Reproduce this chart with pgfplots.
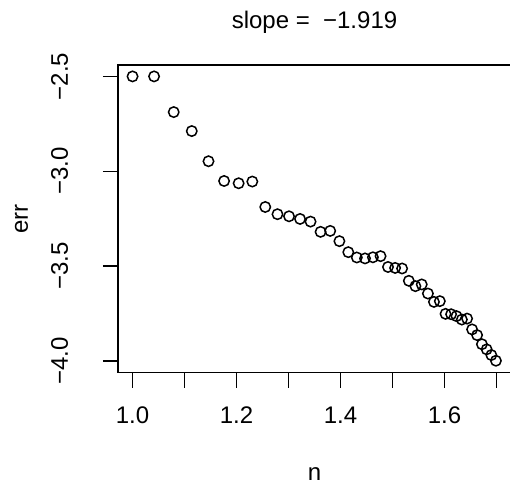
\documentclass[border=0pt,12pt]{standalone}
\usepackage{fontspec}
\setmainfont{Liberation Sans}
\usepackage{pgfplots}
\pgfplotsset{compat=1.18}

% x = log10(n), n = 10..50 ; y = log10(err)
\pgfplotstableread{
x y
1.0000 -2.500
1.0414 -2.500
1.0792 -2.688
1.1139 -2.788
1.1461 -2.947
1.1761 -3.051
1.2041 -3.063
1.2304 -3.054
1.2553 -3.188
1.2788 -3.226
1.3010 -3.237
1.3222 -3.251
1.3424 -3.265
1.3617 -3.319
1.3802 -3.314
1.3979 -3.368
1.4150 -3.426
1.4314 -3.454
1.4472 -3.459
1.4624 -3.453
1.4771 -3.447
1.4914 -3.504
1.5051 -3.509
1.5185 -3.512
1.5315 -3.577
1.5441 -3.605
1.5563 -3.596
1.5682 -3.644
1.5798 -3.688
1.5911 -3.684
1.6021 -3.751
1.6128 -3.753
1.6232 -3.763
1.6335 -3.781
1.6435 -3.776
1.6532 -3.833
1.6628 -3.863
1.6721 -3.911
1.6812 -3.938
1.6902 -3.968
1.6990 -3.998
}\errdata

\begin{document}
\begin{tikzpicture}
\begin{axis}[
    at={(0,0)}, anchor=south west,
    scale only axis,
    width=196.5pt, height=153.75pt,
    xmin=0.972, xmax=1.728,
    ymin=-4.06, ymax=-2.44,
    axis line style={line width=0.75pt},
    tick style={black, line width=0.75pt},
    tick align=outside,
    major tick length=7.5pt,
    xtick pos=bottom, ytick pos=left,
    xtick={1.0,1.1,1.2,1.3,1.4,1.5,1.6,1.7},
    xticklabels={1.0,,1.2,,1.4,,1.6,},
    ytick={-4,-3.5,-3,-2.5},
    yticklabels={−4.0,−3.5,−3.0,−2.5},
    xticklabel style={anchor=base, yshift=-18pt},
    yticklabel style={anchor=base, xshift=-17.5pt, rotate=90},
    title={slope =\ \ −1.919},
    xlabel={n},
    ylabel={err},
    every axis title/.style={at={(axis description cs:0.5,1)}, anchor=base, yshift=18.3pt},
    every axis x label/.style={at={(axis description cs:0.5,0)}, anchor=base, yshift=-53.75pt},
    every axis y label/.style={at={(axis description cs:0,0.5)}, xshift=-45pt, rotate=90, anchor=base},
]
\addplot[only marks, mark=o, mark size=2.6pt, mark options={line width=0.75pt}] table[x=x, y=y] {\errdata};
\end{axis}
\pgfresetboundingbox
\path[use as bounding box] (-59pt,-55.75pt) rectangle (196pt,186.25pt);
\end{tikzpicture}
\end{document}
